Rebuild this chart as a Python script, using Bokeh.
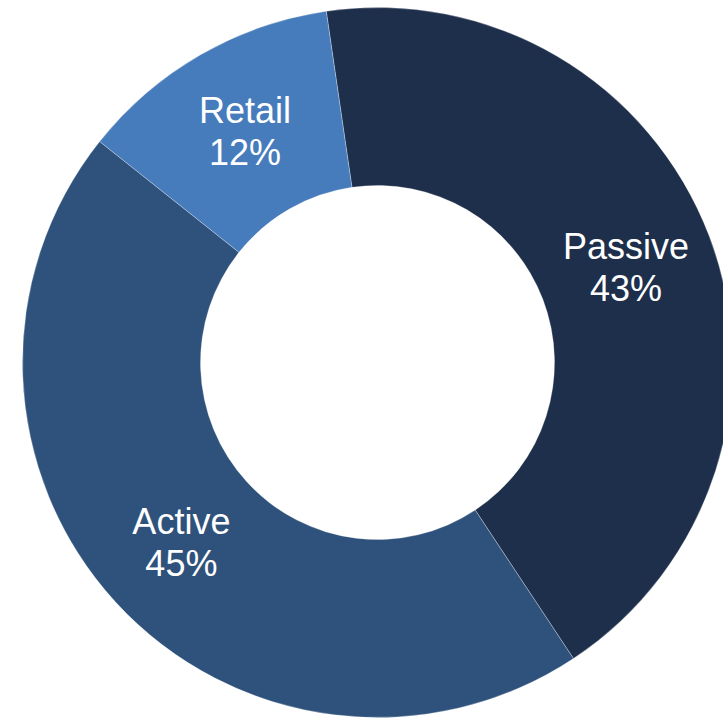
import math
from bokeh.plotting import figure
from bokeh.models import ColumnDataSource, Range1d
from bokeh.core.properties import value
from bokeh.embed import file_html
from bokeh.resources import INLINE

# Data
categories = ["Passive", "Active", "Retail"]
shares = [43, 45, 12]
colors = ["#1E2F4B", "#2F527C", "#467BBC"]

W, H = 723, 718
cx, cy = 377, 356
r_out, r_in = 355, 177
start_deg = 90 + 8.3  # first slice starts slightly left of 12 o'clock, goes clockwise

total = sum(shares)
starts, ends, mids = [], [], []
acc = start_deg
for s in shares:
    sweep = 360.0 * s / total
    starts.append(math.radians(acc))
    ends.append(math.radians(acc - sweep))
    mids.append(math.radians(acc - sweep / 2))
    acc -= sweep

r_mid = (r_out + r_in) / 2
lx = [cx + r_mid * math.cos(m) for m in mids]
ly = [cy + r_mid * math.sin(m) for m in mids]
pct = [f"{s}%" for s in shares]

src = ColumnDataSource(dict(cat=categories, start=starts, end=ends, color=colors,
                            lx=lx, ly=ly, pct=pct))

p = figure(width=W, height=H, output_backend="svg", toolbar_location=None,
           x_range=Range1d(0, W), y_range=Range1d(0, H), min_border=0)
p.axis.visible = False
p.grid.visible = False
p.outline_line_color = None
p.background_fill_color = "white"
p.border_fill_color = "white"

p.annular_wedge(x=cx, y=cy, inner_radius=r_in, outer_radius=r_out,
                start_angle="start", end_angle="end", direction="clock",
                fill_color="color", line_color="white", line_width=0.6, line_alpha=0.5,
                source=src)

p.text(x="lx", y="ly", text="cat", source=src, text_color="white",
       text_font=value("Liberation Sans"), text_font_size="36px",
       text_align="center", text_baseline="middle", y_offset=-21)
p.text(x="lx", y="ly", text="pct", source=src, text_color="white",
       text_font=value("Liberation Sans"), text_font_size="36px",
       text_align="center", text_baseline="middle", y_offset=21)

open("out.html", "w").write(file_html(p, INLINE))
